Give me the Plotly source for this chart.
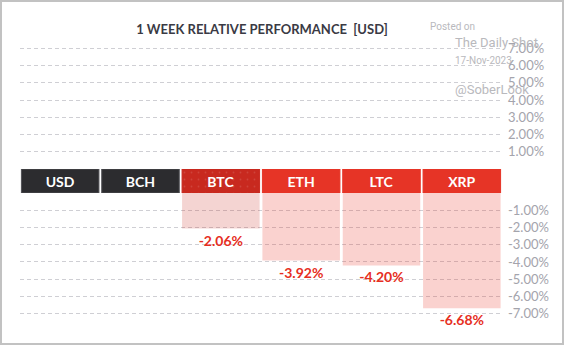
import plotly.graph_objects as go

# ---- data ----
categories = ["USD", "BCH", "BTC", "ETH", "LTC", "XRP"]
perf = [None, None, -2.06, -3.92, -4.20, -6.68]
pos_tickvals = [1, 2, 3, 4, 5, 6, 7]
pos_ticktext = ["1.00%", "2.00%", "3.00%", "4.00%", "5.00%", "6.00%", "7.00%"]
neg_tickvals = [-1, -2, -3, -4, -5, -6, -7]
neg_ticktext = ["-1.00%", "-2.00%", "-3.00%", "-4.00%", "-5.00%", "-6.00%", "-7.00%"]
header_height = [1, 1, 1, 1, 1, 1]

# ---- styles ----
header_colors = ["#2c2c2f", "#2c2c2f", "#c8291f", "#e63426", "#e63426", "#e63426"]
header_lines = ["#505055", "#505055", "#c8291f", "#e63426", "#e63426", "#e63426"]
header_pattern = ["", "", ".", "", "", ""]
bar_colors = ["rgba(230,51,37,0.22)", "rgba(230,51,37,0.22)", "rgba(200,40,31,0.2)",
              "rgba(230,51,37,0.22)", "rgba(230,51,37,0.22)", "rgba(230,51,37,0.22)"]

W, H = 564, 345
L, R, T, B = 20, 62, 38, 21
PW, PH = W - L - R, H - T - B
plot_bottom = H - B
zero_top_px = 169
zero_bot_px = 193


def py(px):
    return (plot_bottom - px) / PH


def pxx(px):
    return (px - L) / PW


neg_vals = [v if (v is not None and v < 0) else None for v in perf]
pos_vals = [v if (v is not None and v > 0) else None for v in perf]
neg_text = [f"<b>{v:.2f}%</b>" if v is not None else "" for v in neg_vals]
pos_text = [f"<b>{v:.2f}%</b>" if v is not None else "" for v in pos_vals]
header_text = [f"<b>{c}</b>" for c in categories]

label_font = dict(family="Lato", size=14, color="#e62e22", weight="bold")

fig = go.Figure()

# positive section (top)
fig.add_trace(go.Bar(
    x=categories, y=pos_vals, xaxis="x", yaxis="y",
    marker=dict(color=bar_colors, line=dict(width=0)),
    text=pos_text, textposition="outside", cliponaxis=False, textangle=0,
    constraintext="none", textfont=label_font,
    hoverinfo="skip", showlegend=False,
))

# header band
fig.add_trace(go.Bar(
    x=categories, y=header_height, xaxis="x", yaxis="y2",
    marker=dict(color=header_colors, line=dict(width=1, color=header_lines),
                pattern=dict(shape=header_pattern, fillmode="overlay",
                             fgcolor="#ffffff", fgopacity=0.12, size=7, solidity=0.05)),
    text=header_text, textposition="inside", insidetextanchor="middle",
    textangle=0, constraintext="none",
    textfont=dict(family="Lato", size=14, color="white", weight="bold"),
    hoverinfo="skip", showlegend=False,
))

# negative section (bottom)
fig.add_trace(go.Bar(
    x=categories, y=neg_vals, xaxis="x", yaxis="y3",
    marker=dict(color=bar_colors, line=dict(width=0)),
    text=neg_text, textposition="outside", cliponaxis=False, textangle=0,
    constraintext="none", textfont=label_font,
    hoverinfo="skip", showlegend=False,
))

grid = dict(showgrid=True, gridcolor="#cfcfd4", gridwidth=1, griddash="4px,3px",
            zeroline=False, showline=False, ticks="", side="right",
            tickfont=dict(family="Lato", size=13, color="#a4a4ac"),
            ticklabelstandoff=5, fixedrange=True)

fig.update_layout(
    width=W, height=H,
    margin=dict(l=L, r=R, t=T, b=B, pad=0),
    paper_bgcolor="white", plot_bgcolor="white",
    bargap=0.035,
    font=dict(family="Lato"),
    xaxis=dict(type="category", anchor="y3", showgrid=False, showticklabels=False,
               zeroline=False, showline=False, ticks="", range=[-0.5, 5.5], domain=[0, 1]),
    yaxis=dict(grid, domain=[py(zero_top_px), 1], range=[0, 7.6], anchor="x",
               tickvals=pos_tickvals, ticktext=pos_ticktext),
    yaxis2=dict(domain=[py(zero_bot_px), py(zero_top_px)], range=[0, 1], anchor="x",
                showgrid=False, showticklabels=False, zeroline=False, showline=False,
                ticks="", fixedrange=True),
    yaxis3=dict(grid, domain=[0, py(zero_bot_px)], range=[-7.6, 0], anchor="x",
                tickvals=neg_tickvals, ticktext=neg_ticktext),
    title=dict(text="1 WEEK RELATIVE PERFORMANCE\u00a0 [USD]",
               x=pxx(262), xref="paper", xanchor="center",
               y=1 - 29.5 / H, yref="container", yanchor="middle",
               font=dict(family="Lato", size=13, color="#3a3a44", weight="bold")),
    showlegend=False,
)

wm = "#b9b9bd"
for txt, x0, y0, sz in [("Posted on", 427.5, 26.5, 10),
                        ("The Daily Shot", 452.5, 42.5, 13),
                        ("17-Nov-2023", 452.5, 60.5, 10),
                        ("@SoberLook", 452.5, 90, 13)]:
    fig.add_annotation(text=txt, xref="paper", yref="paper", x=pxx(x0), y=py(y0),
                       xanchor="left", yanchor="middle", showarrow=False,
                       font=dict(family="Roboto", size=sz, color=wm))

# outer border
fig.add_shape(type="rect", xref="paper", yref="paper",
              x0=pxx(1), x1=pxx(W - 1), y0=py(H - 1), y1=py(1),
              line=dict(color="#c2c2c2", width=2), fillcolor="rgba(0,0,0,0)", layer="above")

fig.write_html("out.html")
